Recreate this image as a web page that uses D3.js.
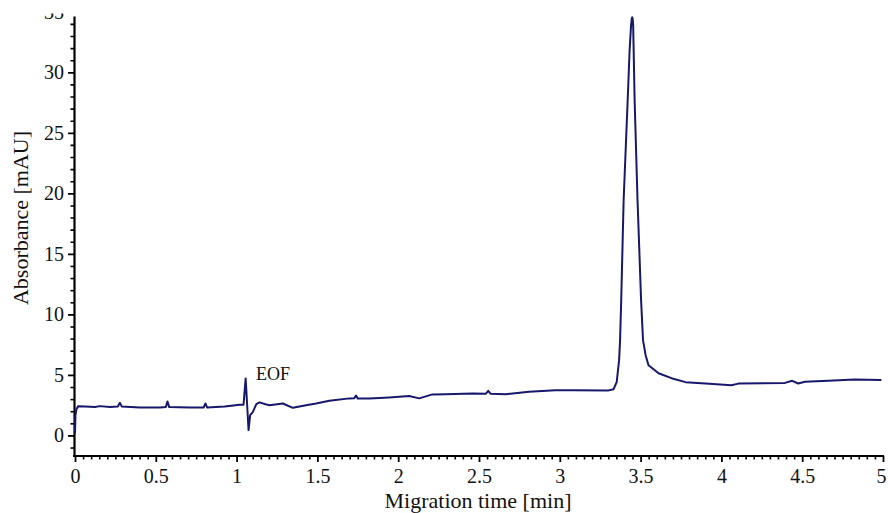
<!DOCTYPE html>
<html>
<head>
<meta charset="utf-8">
<style>
html, body { margin: 0; padding: 0; background: #fff; }
svg { display: block; }
.axis path, .axis line { stroke: #000; }
.trace { fill: none; stroke: #17176b; stroke-width: 2; stroke-linejoin: round; }
</style>
<script src="https://cdnjs.cloudflare.com/ajax/libs/d3/7.8.5/d3.min.js"></script>
</head>
<body>
<svg id="chart" width="888" height="513"></svg>
<script>
var width = 888, height = 513
var serif = '"Liberation Serif", "Times New Roman", Times, "DejaVu Serif", serif'

// migration time [min]
var times = [
  0.000, 0.003, 0.009, 0.020, 0.062, 0.123, 0.154, 0.216, 0.265, 0.278, 0.290,
  0.401, 0.525, 0.562, 0.572, 0.583, 0.710, 0.796, 0.807, 0.818, 0.926, 1.019,
  1.043, 1.056, 1.065, 1.074, 1.084, 1.101, 1.122, 1.142, 1.179, 1.204, 1.286,
  1.348, 1.430, 1.492, 1.574, 1.698, 1.728, 1.739, 1.750, 1.821, 1.944, 2.068,
  2.130, 2.212, 2.294, 2.459, 2.543, 2.557, 2.571, 2.665, 2.809, 2.973, 3.076,
  3.302, 3.333, 3.352, 3.367, 3.373, 3.380, 3.395, 3.420, 3.432, 3.441, 3.445,
  3.448, 3.451, 3.454, 3.457, 3.463, 3.481, 3.503, 3.515, 3.531, 3.549, 3.611,
  3.691, 3.778, 3.901, 4.062, 4.105, 4.393, 4.438, 4.475, 4.517, 4.660, 4.825,
  4.990
]
// absorbance [mAU]
var absorbance = [
  0.17, 1.68, 2.17, 2.42, 2.38, 2.34, 2.42, 2.34, 2.38, 2.69, 2.38,
  2.30, 2.30, 2.34, 2.81, 2.34, 2.30, 2.30, 2.64, 2.30, 2.38, 2.54,
  2.54, 4.71, 2.58, 0.44, 1.68, 1.95, 2.58, 2.73, 2.58, 2.50, 2.64,
  2.28, 2.50, 2.64, 2.86, 3.06, 3.08, 3.29, 3.04, 3.06, 3.14, 3.25,
  3.06, 3.39, 3.41, 3.47, 3.45, 3.68, 3.45, 3.41, 3.60, 3.74, 3.74,
  3.72, 3.82, 4.40, 6.22, 7.87, 11.17, 19.43, 27.69, 31.82, 33.88, 34.40,
  34.55, 34.40, 33.88, 31.82, 27.69, 19.43, 11.17, 7.87, 6.63, 5.80, 5.14,
  4.73, 4.40, 4.28, 4.15, 4.28, 4.34, 4.51, 4.29, 4.43, 4.51, 4.62,
  4.57
]

var xMajor = [0, 0.5, 1, 1.5, 2, 2.5, 3, 3.5, 4, 4.5, 5]
var yMajor = [0, 5, 10, 15, 20, 25, 30, 35]

var notes = [{label: 'EOF', t: 1.12, v: 4.6}]

var data = times.map(function(t, i) { return {t: t, v: absorbance[i]} })

var x = d3.scaleLinear().domain([0, 5]).range([75, 883])
var y = d3.scaleLinear().domain([-1.7, 34.65]).range([456, 16])

var svg = d3.select('#chart')

// picture is cropped a little above the top of the axis
svg.append('clipPath').attr('id', 'crop')
  .append('rect').attr('x', 0).attr('y', 13.4).attr('width', width).attr('height', height)

var g = svg.append('g').attr('clip-path', 'url(#crop)')

var xMinor = d3.range(0, 5.0001, 0.05).filter(function(d) {
  return Math.abs(d * 2 - Math.round(d * 2)) > 1e-6
})
var yMinor = d3.range(-1, 35, 1).filter(function(d) { return d % 5 !== 0 })

// minor ticks
g.append('g').attr('class', 'axis')
  .attr('transform', 'translate(0,456)')
  .call(d3.axisBottom(x).tickValues(xMinor).tickSize(3.5).tickFormat('').tickSizeOuter(0))
  .call(function(s) { s.select('.domain').remove() })
  .selectAll('line').attr('stroke-width', 1.6)

g.append('g').attr('class', 'axis')
  .attr('transform', 'translate(74,0)')
  .call(d3.axisLeft(y).tickValues(yMinor).tickSize(3.5).tickFormat('').tickSizeOuter(0))
  .call(function(s) { s.select('.domain').remove() })
  .selectAll('line').attr('stroke-width', 1.6)

// major ticks
var xAxis = g.append('g').attr('class', 'axis')
  .attr('transform', 'translate(0,456)')
  .call(d3.axisBottom(x).tickValues(xMajor).tickSize(6).tickPadding(7)
    .tickFormat(d3.format('')).tickSizeOuter(0))
xAxis.select('.domain').attr('stroke-width', 2).attr('d', 'M73,0H884')
xAxis.selectAll('.tick line').attr('stroke-width', 1.8)

var yAxis = g.append('g').attr('class', 'axis')
  .attr('transform', 'translate(74,0)')
  .call(d3.axisLeft(y).tickValues(yMajor).tickSize(6).tickPadding(4).tickSizeOuter(0))
yAxis.select('.domain').attr('stroke-width', 2.2)
yAxis.selectAll('.tick line').attr('stroke-width', 1.8)

g.selectAll('.axis').attr('font-family', null).attr('font-size', null)
g.selectAll('.axis text')
  .style('font-family', serif)
  .style('font-size', '20px')
  .style('fill', '#111')
xAxis.selectAll('.tick text').filter(function(d) { return d === 5 }).attr('dx', -2)

// trace
g.append('path')
  .datum(data)
  .attr('class', 'trace')
  .attr('d', d3.line()
    .x(function(d) { return x(d.t) })
    .y(function(d) { return y(d.v) }))

// annotation
g.selectAll('.note')
  .data(notes)
  .join('text')
  .attr('class', 'note')
  .style('font-family', serif)
  .style('font-size', '18px')
  .style('fill', '#111')
  .attr('x', function(d) { return x(d.t) })
  .attr('y', function(d) { return y(d.v) })
  .text(function(d) { return d.label })

// axis titles
svg.append('text')
  .style('font-family', serif)
  .style('font-size', '22px')
  .style('fill', '#111')
  .attr('text-anchor', 'middle')
  .attr('x', 478).attr('y', 508)
  .text('Migration time [min]')

svg.append('text')
  .style('font-family', serif)
  .style('font-size', '22px')
  .style('fill', '#111')
  .attr('text-anchor', 'middle')
  .attr('transform', 'translate(28.3,218) rotate(-90)')
  .text('Absorbance [mAU]')
</script>
</body>
</html>
